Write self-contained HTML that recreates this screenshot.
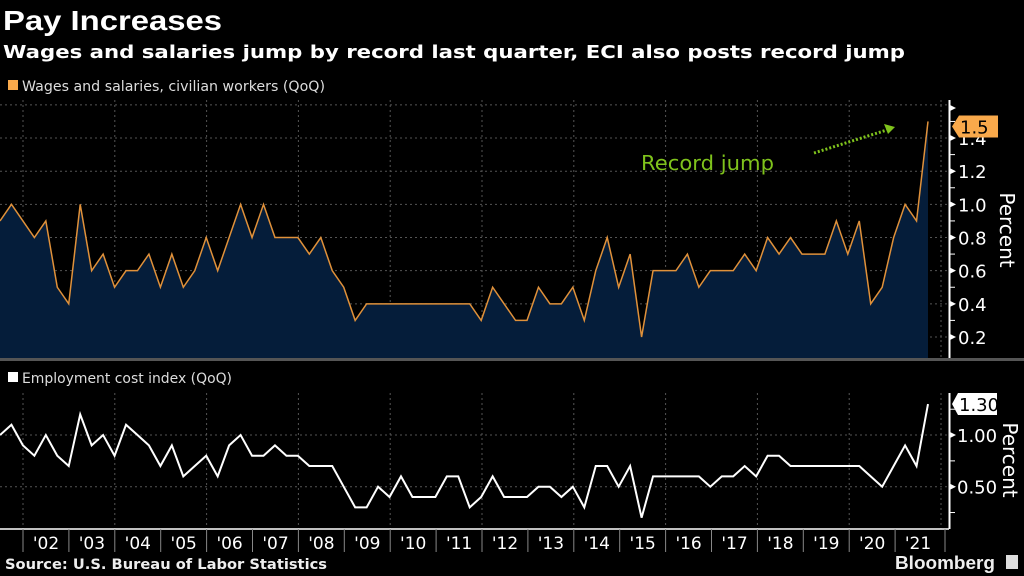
<!DOCTYPE html>
<html><head><meta charset="utf-8">
<style>
html,body{margin:0;padding:0;background:#000;}
svg{display:block;font-family:"DejaVu Sans","Liberation Sans",sans-serif;}
</style></head>
<body>
<svg id="chart" width="1024" height="576" viewBox="0 0 1024 576" xmlns="http://www.w3.org/2000/svg">
<rect x="0" y="0" width="1024" height="576" fill="#000"/>
<text x="3" y="30" fill="#fff" font-family="Liberation Sans, sans-serif" font-weight="bold" font-size="28" textLength="219" lengthAdjust="spacingAndGlyphs">Pay Increases</text>
<text x="3" y="58" fill="#fff" font-family="DejaVu Sans, sans-serif" font-weight="bold" font-size="18" textLength="902" lengthAdjust="spacingAndGlyphs">Wages and salaries jump by record last quarter, ECI also posts record jump</text>
<rect x="8" y="80" width="10" height="10" fill="#f9a94b"/>
<text x="22" y="91" fill="#ddd" font-size="14" textLength="303" lengthAdjust="spacingAndGlyphs">Wages and salaries, civilian workers (QoQ)</text>
<rect x="8" y="372" width="10" height="10" fill="#fff"/>
<text x="22" y="383" fill="#ddd" font-size="14" textLength="210" lengthAdjust="spacingAndGlyphs">Employment cost index (QoQ)</text>
<g id="gtop"></g>
<g id="gbot"></g>
<rect x="0" y="358" width="1024" height="3" fill="#555"/>
<g id="xaxis"></g>
<text x="5" y="569" fill="#eee" font-family="DejaVu Sans, sans-serif" font-weight="bold" font-size="14" textLength="322" lengthAdjust="spacingAndGlyphs">Source: U.S. Bureau of Labor Statistics</text>
<text x="895" y="569" fill="#eee" font-family="Liberation Sans, sans-serif" font-weight="bold" font-size="18" textLength="100" lengthAdjust="spacingAndGlyphs">Bloomberg</text>
<rect x="1006" y="555" width="12" height="14" fill="#ddd"/>
<text x="641" y="170" fill="#7fc31c" font-size="20" textLength="133" lengthAdjust="spacingAndGlyphs">Record jump</text>
<line x1="814" y1="153" x2="890" y2="129" stroke="#7fc31c" stroke-width="3" stroke-dasharray="2,2"/>
<polygon points="895,127 884,124 888,134" fill="#7fc31c"/>
</svg>
<script>
const wages = [0.9,1.0,0.9,0.8,0.9,0.5,0.4,1.0,0.6,0.7,0.5,0.6,0.6,0.7,0.5,0.7,0.5,0.6,0.8,0.6,0.8,1.0,0.8,1.0,0.8,0.8,0.8,0.7,0.8,0.6,0.5,0.3,0.4,0.4,0.4,0.4,0.4,0.4,0.4,0.4,0.4,0.4,0.3,0.5,0.4,0.3,0.3,0.5,0.4,0.4,0.5,0.3,0.6,0.8,0.5,0.7,0.2,0.6,0.6,0.6,0.7,0.5,0.6,0.6,0.6,0.7,0.6,0.8,0.7,0.8,0.7,0.7,0.7,0.9,0.7,0.9,0.4,0.5,0.8,1.0,0.9,1.5];
const eci = [1.0,1.1,0.9,0.8,1.0,0.8,0.7,1.2,0.9,1.0,0.8,1.1,1.0,0.9,0.7,0.9,0.6,0.7,0.8,0.6,0.9,1.0,0.8,0.8,0.9,0.8,0.8,0.7,0.7,0.7,0.5,0.3,0.3,0.5,0.4,0.6,0.4,0.4,0.4,0.6,0.6,0.3,0.4,0.6,0.4,0.4,0.4,0.5,0.5,0.4,0.5,0.3,0.7,0.7,0.5,0.7,0.2,0.6,0.6,0.6,0.6,0.6,0.5,0.6,0.6,0.7,0.6,0.8,0.8,0.7,0.7,0.7,0.7,0.7,0.7,0.7,0.6,0.5,0.7,0.9,0.7,1.3];
const yearLabels = ["'02","'03","'04","'05","'06","'07","'08","'09","'10","'11","'12","'13","'14","'15","'16","'17","'18","'19","'20","'21"];
const topTicks = [0.2,0.4,0.6,0.8,1.0,1.2,1.4];
const botTicks = [0.5,1.0];
const botTickLabels = ["0.50","1.00"];

const NS="http://www.w3.org/2000/svg";
function mk(tag,attrs,parent){const e=document.createElementNS(NS,tag);for(const k in attrs)e.setAttribute(k,attrs[k]);parent.appendChild(e);return e;}
const xQ = i => i*928/(wages.length-1);
const yTop = v => 337-(v-0.2)*165.8;
const yBot = v => 486.7-(v-0.5)*103.3;
const xYear = k => 23+k*45.9;
const gTop=document.getElementById('gtop'), gBot=document.getElementById('gbot'), gX=document.getElementById('xaxis');

for(let k=0;k<=20;k+=2){const l=mk('line',{x1:xYear(k),x2:xYear(k),y1:100,y2:358,stroke:'#555','stroke-dasharray':'2,3'},gTop);

}
[...topTicks,1.6].forEach(v=>{const l=mk('line',{x1:0,x2:948,y1:yTop(v),y2:yTop(v),stroke:'#555','stroke-dasharray':'2,3'},gTop);

});
let pts=wages.map((v,i)=>xQ(i)+','+yTop(v)).join(' ');
const area=mk('polygon',{points:'0,358 '+pts+' '+xQ(wages.length-1)+',358',fill:'#051d3a'},gTop);


const wl=mk('polyline',{points:pts,fill:'none',stroke:'#e0913a','stroke-width':1.5},gTop);


const ta=mk('line',{x1:949.5,x2:949.5,y1:100,y2:358,stroke:'#fff','stroke-width':2},gTop);


topTicks.forEach(v=>{const y=yTop(v);
const p=mk('polygon',{points:`950,${y-3} 956,${y} 950,${y+3}`,fill:'#fff'},gTop);


const m=mk('line',{x1:950,x2:955,y1:y-16.6,y2:y-16.6,stroke:'#fff'},gTop);


const t=mk('text',{x:958,y:y+7,fill:'#fff','font-size':18},gTop);t.textContent=v.toFixed(1);

});
const tp=mk('polygon',{points:'950,105 956,108 950,111',fill:'#fff'},gTop);


const tt=mk('text',{x:0,y:0,fill:'#fff','font-size':20,transform:'translate(1000,230) rotate(90)','text-anchor':'middle'},gTop);tt.textContent='Percent';


const lastW=wages[wages.length-1];const ly=yTop(lastW);
const ob=mk('polygon',{points:`952,${ly+5} 959,${ly-6} 998,${ly-6} 998,${ly+16} 959,${ly+16}`,fill:'#f9a94b'},gTop);


const ot=mk('text',{x:960,y:ly+12,fill:'#000','font-size':18},gTop);ot.textContent=lastW.toFixed(1);



for(let k=0;k<=20;k+=2){const l=mk('line',{x1:xYear(k),x2:xYear(k),y1:393,y2:529,stroke:'#555','stroke-dasharray':'2,3'},gBot);

}
botTicks.forEach(v=>{const l=mk('line',{x1:0,x2:948,y1:yBot(v),y2:yBot(v),stroke:'#555','stroke-dasharray':'2,3'},gBot);

});
const el=mk('polyline',{points:eci.map((v,i)=>xQ(i)+','+yBot(v)).join(' '),fill:'none',stroke:'#fff','stroke-width':2},gBot);


const ba=mk('line',{x1:949.5,x2:949.5,y1:393,y2:529,stroke:'#fff','stroke-width':2},gBot);


[0.25,0.75,1.25].forEach(v=>{const m=mk('line',{x1:950,x2:955,y1:yBot(v),y2:yBot(v),stroke:'#fff'},gBot);

});
botTicks.forEach((v,i)=>{const y=yBot(v);
const p=mk('polygon',{points:`950,${y-3} 956,${y} 950,${y+3}`,fill:'#fff'},gBot);


const t=mk('text',{x:957,y:y+7,fill:'#fff','font-size':18},gBot);t.textContent=botTickLabels[i];

});
const bt=mk('text',{x:0,y:0,fill:'#fff','font-size':20,transform:'translate(1003,460) rotate(90)','text-anchor':'middle'},gBot);bt.textContent='Percent';


const lastE=eci[eci.length-1];const ey=yBot(lastE);
const wb=mk('polygon',{points:`952,${ey} 958,${ey-11} 997,${ey-11} 997,${ey+11} 958,${ey+11}`,fill:'#fff'},gBot);


const wt=mk('text',{x:959,y:ey+7,fill:'#000','font-size':18},gBot);wt.textContent=lastE.toFixed(2);



const xl=mk('line',{x1:0,x2:949,y1:529,y2:529,stroke:'#fff','stroke-width':1.5},gX);


for(let k=0;k<=20;k++){const x=k===20?945:xYear(k);const s=mk('line',{x1:x,x2:x,y1:529,y2:552,stroke:'#888'},gX);

}
yearLabels.forEach((lab,k)=>{const cx=k===19?918:xYear(k)+23;
const t=mk('text',{x:cx,y:549,fill:'#fff','font-size':17,'text-anchor':'middle'},gX);t.textContent=lab;

});
</script>
</body></html>
